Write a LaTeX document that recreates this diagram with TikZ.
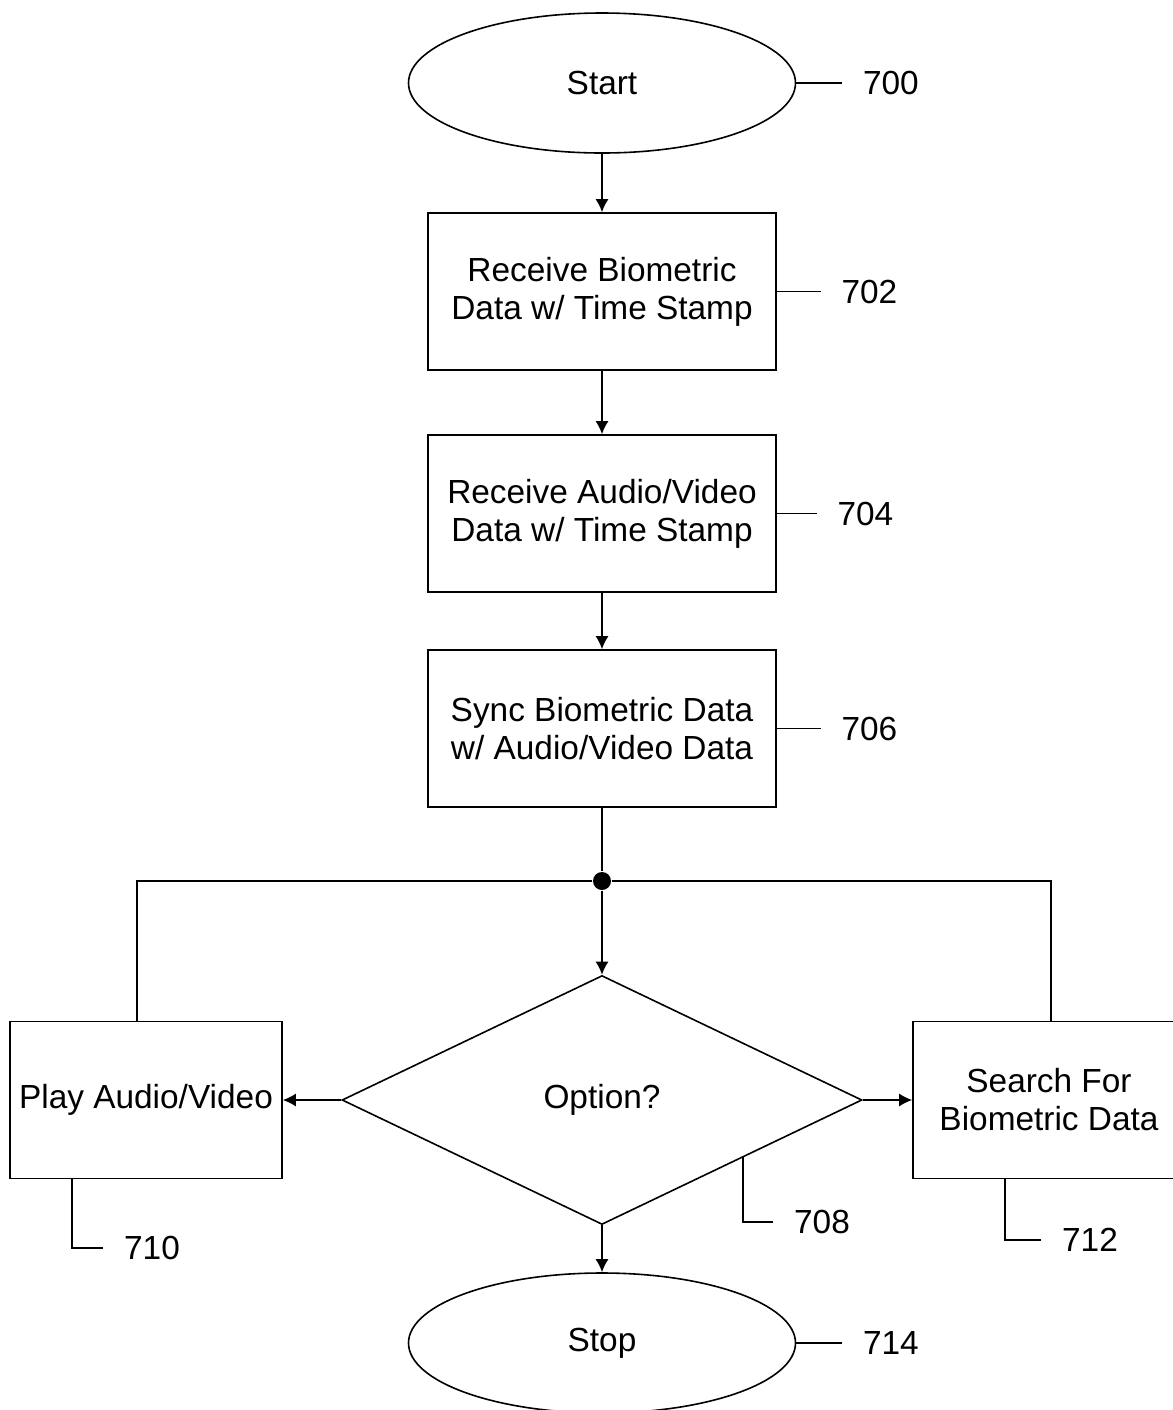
\documentclass[tikz,border=0pt]{standalone}
\usepackage{fontspec}
\setmainfont{Liberation Sans}
\usetikzlibrary{shapes.geometric, arrows.meta, positioning}

\tikzset{
  term/.style={draw, ellipse, minimum width=193.5pt, minimum height=70pt, inner sep=0pt},
  stepbox/.style={draw, rectangle, align=center, minimum width=174pt, minimum height=78.5pt},
  sidebox/.style={draw, rectangle, align=center, minimum width=136pt, minimum height=78.5pt},
  num/.style={inner sep=10pt},
}

\begin{document}
\begin{tikzpicture}[x=0.5pt, y=-0.5pt, >={Latex[length=6.5pt,width=6.5pt]}, line width=0.8pt, font=\fontsize{16.7}{19}\selectfont]
        \useasboundingbox (0,0) rectangle (1173,1410);
        % main flow
        \node (start) [term] at (602,83) {Start};
        \node (recbio) [stepbox, below of=start, node distance=104.25pt] {Receive Biometric\\Data w/ Time Stamp};
        \node (recav) [stepbox, below of=recbio, node distance=111pt] {Receive Audio/Video\\Data w/ Time Stamp};
        \node (sync) [stepbox, below of=recav, node distance=107.5pt] {Sync Biometric Data\\w/ Audio/Video Data};
        \node (split) [circle, fill, inner sep=0pt, minimum size=9pt] at (602,881) {};
        \node (opt) [draw, diamond, minimum width=260pt, minimum height=124.5pt, inner sep=0pt, below of=sync, node distance=185.75pt] {Option?};
        \node (play) [sidebox, left of=opt, node distance=228pt] {Play Audio/Video};
        \node (search) [sidebox, right of=opt, node distance=223.5pt] {Search For\\Biometric Data};
        \node (stop) [term, below of=opt, node distance=121.5pt] {Stop};

        \draw[->] (start) -- (recbio);
        \draw[->] (recbio) -- (recav);
        \draw[->] (recav) -- (sync);
        \draw (sync) -- (split);
        \draw[->] (split) -- (opt);
        \draw (split) -| ([xshift=-4.5pt]play.north);
        \draw (split) -| ([xshift=1pt]search.north);
        \draw[->] (opt) -- (play);
        \draw[->] (opt) -- (search);
        \draw[->] (opt) -- (stop);

        % reference numerals
        \node (n700) [num, right=23pt of start] {700};
        \node (n702) [num, right=22pt of recbio] {702};
        \node (n704) [num, right=20pt of recav] {704};
        \node (n706) [num, right=22pt of sync] {706};
        \node (n714) [num, right=23pt of stop] {714};
        \node (n708) [num] at (822,1222) {708};
        \node (n710) [num] at (152,1248) {710};
        \node (n712) [num] at (1090,1240) {712};
        \coordinate (c708) at (743,1156);

        \draw (start) -- (n700);
        \draw (recbio) -- (n702);
        \draw (recav) -- (n704);
        \draw (sync) -- (n706);
        \draw (stop) -- (n714);
        \draw (c708) |- (n708);
        \draw ([xshift=31.5pt]play.south west) |- (n710);
        \draw ([xshift=46.5pt]search.south west) |- (n712);
    \end{tikzpicture}
\end{document}
